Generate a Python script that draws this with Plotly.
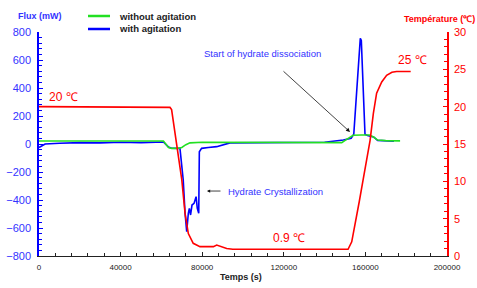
import plotly.graph_objects as go

# ---- data ----
t_temp = [0, 62000, 64200, 65000, 67500, 70000, 71600, 73200, 75600, 78900, 85500, 87100,
          92000, 95000, 120000, 151500, 153300, 155000, 157000, 159000, 160600, 162300,
          163900, 165500, 168000, 170400, 173000, 175300, 182200]
temp = [20, 20, 19.9, 19.6, 14.6, 10.2, 5.7, 3.0, 1.7, 1.25, 1.25, 1.47,
        1.0, 0.9, 0.9, 0.9, 1.9, 4.2, 7.3, 10.4, 12.9, 15.5,
        19.1, 21.8, 23.3, 24.2, 24.6, 24.7, 24.7]

t_green = [0, 30000, 61000, 63500, 65000, 68000, 70000, 72000, 74000, 80000, 100000,
           120000, 140000, 148400, 151000, 154000, 158000, 162000, 164000, 166000,
           170000, 177000]
flux_green = [21, 20, 21, -25, -31, -31, -25, -5, 8, 12, 12,
              12, 12, 10, 35, 62, 64, 64, 50, 28, 24, 22]

t_blue = [0, 1500, 3000, 10000, 20000, 30000, 40000, 50000, 60000, 61000, 63500, 65000,
          69100, 70700, 71600, 72400, 73200, 73700, 74300, 75000, 76000, 77000, 77600,
          78300, 78600, 79700, 83000, 87100, 93600, 100000, 120000, 140000, 149200,
          153000, 154300, 155500, 156800, 157500, 158000, 158700, 159300, 159800,
          161000, 164000, 166000, 170000, 174000]
flux_blue = [-25, -10, 0, 5, 10, 8, 12, 10, 12, 14, -22, -30,
             -31, -257, -495, -626, -495, -460, -507, -436, -424, -376, -460,
             -495, -55, -31, -25, -19, 8, 8, 10, 12, 28,
             40, 70, 350, 650, 755, 740, 500, 200, 70,
             60, 50, 26, 22, 20]

x_ticks = [0, 40000, 80000, 120000, 160000, 200000]
y_ticks = [-800, -600, -400, -200, 0, 200, 400, 600, 800]
y2_ticks = [0, 5, 10, 15, 20, 25, 30]

series_names = ["without agitation", "with agitation"]

BLUE = "#0000ff"
BLUE_TXT = "#3333ff"
RED = "#ff0000"
GREEN = "#22e022"
DARK = "#222222"
FONT = "Liberation Sans, Arial, sans-serif"

PL, PT, PW, PH = 39, 32, 408, 224  # plot area in pixels


def px(xp):
    return (xp - PL) / PW


def py(yp):
    return (PT + PH - yp) / PH


fig = go.Figure()
fig.add_trace(go.Scatter(x=t_blue, y=flux_blue, mode="lines", name=series_names[1],
                         line=dict(color=BLUE, width=1.6), showlegend=False))
fig.add_trace(go.Scatter(x=t_green, y=flux_green, mode="lines", name=series_names[0],
                         line=dict(color=GREEN, width=1.6), showlegend=False))
fig.add_trace(go.Scatter(x=t_temp, y=temp, mode="lines", name="Température",
                         line=dict(color=RED, width=1.6), yaxis="y2", showlegend=False))

fig.update_layout(
    width=477, height=288,
    margin=dict(l=PL, r=477 - PL - PW, t=PT, b=288 - PT - PH, autoexpand=False),
    plot_bgcolor="white", paper_bgcolor="white",
    font=dict(family=FONT),
    showlegend=False,
    xaxis=dict(range=[0, 200000], tickvals=x_ticks, tickformat="d", automargin=False,
               showgrid=False, zeroline=False, showline=True, linecolor=DARK,
               linewidth=1, ticks="inside", ticklen=4, tickcolor=DARK,
               tickfont=dict(size=8, color=DARK), ticklabelstandoff=3,
               minor=dict(dtick=8000, ticks="inside", ticklen=3, tickcolor=DARK)),
    yaxis=dict(range=[-800, 800], tickvals=y_ticks, showgrid=False, zeroline=False,
               automargin=False, ticklabelstandoff=4,
               showline=True, linecolor=BLUE, linewidth=1.5, ticks="inside", ticklen=4,
               tickcolor=BLUE, tickfont=dict(size=11, color=BLUE_TXT),
               minor=dict(dtick=40, ticks="inside", ticklen=3, tickcolor=BLUE)),
    yaxis2=dict(range=[0, 30], tickvals=y2_ticks, overlaying="y", side="right",
                automargin=False, ticklabelstandoff=3,
                showgrid=False, zeroline=False, showline=True, linecolor=RED,
                linewidth=1.5, ticks="inside", ticklen=4, tickcolor=RED,
                tickfont=dict(size=11, color=RED),
                minor=dict(dtick=1, ticks="inside", ticklen=3, tickcolor=RED)),
)

# manual legend (sample lines + labels)
shapes = [
    dict(type="line", xref="paper", yref="paper", x0=px(88), x1=px(110),
         y0=py(16), y1=py(16), line=dict(color=GREEN, width=2.5)),
    dict(type="line", xref="paper", yref="paper", x0=px(88), x1=px(110),
         y0=py(29), y1=py(29), line=dict(color=BLUE, width=2.5)),
]
fig.update_layout(shapes=shapes)

ann = []
ann.append(dict(text="<b>%s</b>" % series_names[0], xref="paper", yref="paper",
                x=px(117), y=py(16), xanchor="left", yanchor="middle", showarrow=False,
                font=dict(size=9.5, color=DARK)))
ann.append(dict(text="<b>%s</b>" % series_names[1], xref="paper", yref="paper",
                x=px(117), y=py(29), xanchor="left", yanchor="middle", showarrow=False,
                font=dict(size=9.5, color=DARK)))
# axis titles
ann.append(dict(text="<b>Flux (mW)</b>", xref="paper", yref="paper",
                x=px(40), y=py(16.5), xanchor="center", yanchor="middle", showarrow=False,
                font=dict(size=9, color=BLUE_TXT)))
ann.append(dict(text="<b>Température (℃)</b>", xref="paper", yref="paper",
                x=px(439), y=py(19), xanchor="center", yanchor="middle", showarrow=False,
                font=dict(size=9, color=RED)))
ann.append(dict(text="<b>Temps (s)</b>", xref="paper", yref="paper",
                x=px(241), y=py(277), xanchor="center", yanchor="middle", showarrow=False,
                font=dict(size=9, color=DARK)))
# temperature labels
ann.append(dict(text="20 ℃", x=12250, y=21.3, xref="x", yref="y2", showarrow=False,
                yanchor="middle", font=dict(size=12, color=RED)))
ann.append(dict(text="0.9 ℃", x=122500, y=2.4, xref="x", yref="y2", showarrow=False,
                yanchor="middle", font=dict(size=12, color=RED)))
ann.append(dict(text="25 ℃", x=183300, y=26.25, xref="x", yref="y2", showarrow=False,
                yanchor="middle", font=dict(size=12, color=RED)))
# event labels
ann.append(dict(text="Start of hydrate dissociation", x=109800, y=643, xref="x", yref="y",
                yanchor="middle", showarrow=False, font=dict(size=9.5, color=BLUE_TXT)))
ann.append(dict(text="", x=152450, y=86, xref="x", yref="y", showarrow=True,
                ax=-68, ay=-62, arrowhead=2, arrowsize=1, arrowwidth=0.8,
                arrowcolor="#111111"))
ann.append(dict(text="Hydrate Crystallization", x=91700, y=-336, xref="x", yref="y",
                xanchor="left", yanchor="middle", showarrow=False,
                font=dict(size=9.5, color=BLUE_TXT)))
ann.append(dict(text="", x=82350, y=-336, xref="x", yref="y", showarrow=True,
                ax=15, ay=0, arrowhead=2, arrowsize=0.8, arrowwidth=0.8,
                arrowcolor="#111111"))
fig.update_layout(annotations=ann)

fig.write_html("out.html", config={"displayModeBar": False},
               post_script="document.body.style.margin='0';document.body.style.overflow='hidden';")
